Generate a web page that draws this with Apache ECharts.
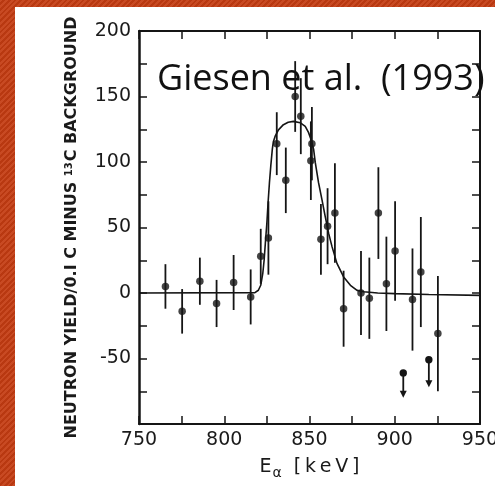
<!DOCTYPE html>
<html><head><meta charset="utf-8">
<script src="https://cdn.jsdelivr.net/npm/echarts@6.0.0/dist/echarts.min.js"></script>
<style>
html,body{margin:0;padding:0;width:495px;height:486px;overflow:hidden;}
body{background-color:#c43c12;background-image:repeating-linear-gradient(135deg, rgba(255,255,255,0.07) 0px, rgba(255,255,255,0.07) 2px, rgba(0,0,0,0.06) 2px, rgba(0,0,0,0.06) 4px);}
#chart{position:absolute;left:15px;top:7px;width:480px;height:479px;background:#fff;}
</style></head>
<body><div id="chart"></div>
<script>
// Measured points
var energy = [765.5, 775.3, 785.7, 795.5, 805.5, 815.5, 821.4, 825.9, 830.8, 836.1, 841.6, 844.9, 850.8, 851.4, 856.7, 860.6, 864.9, 870.0, 880.2, 885.1, 890.4, 895.1, 900.2, 910.4, 915.3, 925.3];
var yieldVals = [5, -14, 9, -8, 8, -3, 28, 42, 114, 86, 150, 135, 101, 114, 41, 51, 61, -12, 0, -4, 61, 7, 32, -5, 16, -31];
var errors = [17, 17, 18, 18, 21, 21, 21, 28, 24, 25, 27, 29, 30, 28, 27, 29, 38, 29, 32, 31, 35, 36, 38, 39, 42, 44];
// Upper limits (arrows)
var limitE = [905.0, 920.0];
var limitY = [-61, -51];
var limitTip = [-80, -72];
// Fitted curve
var fitE = [750, 818, 820.0, 821.4, 822.6, 823.4, 824.1, 825.0, 825.7, 826.5, 827.3, 828.2, 828.8, 829.8, 831.8, 834.7, 837.5, 840.6, 844.5, 847.5, 849.4, 850.8, 852.4, 853.4, 855.3, 857.3, 859.2, 861.2, 863.2, 866.1, 870.0, 874.0, 877.9, 881.8, 890, 900, 920, 950];
var fitY = [0, 0.3, 2.1, 5.9, 14.9, 25.2, 38, 53.4, 68.8, 84.2, 97, 109.8, 115.5, 119.5, 124.5, 128.5, 130.3, 131, 130.0, 127.2, 122.6, 117.5, 109.8, 99.5, 84.2, 71.3, 58.5, 45.7, 35.4, 22.6, 12.3, 5.9, 2.0, 1.0, 0, -0.5, -1.2, -1.8];
// Axes
var xMin = 750, xMax = 950, xStep = 25;
var yMin = -100, yMax = 200, yStep = 25;
var titleText = 'Giesen et al.  (1993)';

var pts = energy.map(function(e, i){ return [e, yieldVals[i]]; });
var errData = energy.map(function(e, i){ return [e, yieldVals[i], errors[i]]; });
var limData = limitE.map(function(e, i){ return [e, limitY[i], limitTip[i]]; });
var fitData = fitE.map(function(e, i){ return [e, fitY[i]]; });

var ink = '#151515';
var tickFont = {fontFamily:'DejaVu Sans', fontSize:19, color:'#1a1a1a'};

var chart = echarts.init(document.getElementById('chart'), null, {renderer:'canvas'});
chart.setOption({
  animation:false,
  backgroundColor:'#fff',
  grid:{left:124, right:15, top:24, bottom:62, containLabel:false, outerBoundsMode:'none'},
  xAxis:[{
    type:'value', min:xMin, max:xMax, interval:xStep, position:'bottom',
    axisLine:{onZero:false, lineStyle:{color:ink, width:2}},
    axisTick:{inside:true, length:8, lineStyle:{color:ink, width:1.5}},
    axisLabel:Object.assign({margin:7, hideOverlap:false, formatter:function(v){return v%50===0?String(v):'';}}, tickFont),
    splitLine:{show:false},
    name:'{e|E}{a|α}{k|  [\u2009k\u2009e\u2009V\u2009]}', nameLocation:'middle', nameGap:30,
    nameTextStyle:{rich:{
      e:{fontFamily:'DejaVu Sans', fontSize:19, color:'#1a1a1a'},
      a:{fontFamily:'DejaVu Sans', fontSize:14, color:'#1a1a1a', verticalAlign:'bottom', padding:[12,0,0,1]},
      k:{fontFamily:'DejaVu Sans', fontSize:19, color:'#1a1a1a'}
    }}
  },{
    type:'value', min:xMin, max:xMax, interval:xStep, position:'top',
    axisLine:{onZero:false, lineStyle:{color:ink, width:2}},
    axisTick:{inside:true, length:8, lineStyle:{color:ink, width:1.5}},
    axisLabel:{show:false}, splitLine:{show:false}
  }],
  yAxis:[{
    type:'value', min:yMin, max:yMax, interval:yStep, position:'left',
    axisLine:{onZero:false, lineStyle:{color:ink, width:2.5}},
    axisTick:{inside:true, length:8, lineStyle:{color:ink, width:1.5}},
    axisLabel:Object.assign({margin:8, formatter:function(v){return (v%50===0 && v>yMin)?String(v):'';}}, tickFont),
    splitLine:{show:false},
    name:'{t|NEUTRON YIELD/0.I C MINUS }{s|13}{t|C BACKGROUND}', nameLocation:'middle', nameRotate:90, nameGap:59,
    nameTextStyle:{rich:{
      t:{fontFamily:'DejaVu Sans', fontSize:16, fontWeight:'bold', color:'#1a1a1a'},
      s:{fontFamily:'DejaVu Sans', fontSize:10, fontWeight:'bold', color:'#1a1a1a', verticalAlign:'top', padding:[0,1,6,0]}
    }}
  },{
    type:'value', min:yMin, max:yMax, interval:yStep, position:'right',
    axisLine:{onZero:false, lineStyle:{color:ink, width:2}},
    axisTick:{inside:true, length:8, lineStyle:{color:ink, width:1.5}},
    axisLabel:{show:false}, splitLine:{show:false}
  }],
  graphic:[{
    type:'text', left:142, top:55, z:100,
    style:{text:titleText, font:'36px "Open Sans"', fill:'#111'}
  }],
  series:[
    {type:'line', data:fitData, showSymbol:false, symbol:'none', smooth:false,
     lineStyle:{color:ink, width:1.6}, z:3},
    {type:'custom', data:errData, z:4, renderItem:function(params, api){
      var x = api.value(0), y = api.value(1), e = api.value(2);
      var p1 = api.coord([x, y+e]), p2 = api.coord([x, y-e]);
      return {type:'line', shape:{x1:p1[0], y1:p1[1], x2:p2[0], y2:p2[1]}, style:{stroke:ink, lineWidth:1.8}};
    }},
    {type:'scatter', data:pts, symbol:'circle', symbolSize:7.5, itemStyle:{color:ink}, z:5},
    {type:'custom', data:limData, z:5, renderItem:function(params, api){
      var x = api.value(0), y = api.value(1), t = api.value(2);
      var p1 = api.coord([x, y]), p2 = api.coord([x, t]);
      return {type:'group', children:[
        {type:'line', shape:{x1:p1[0], y1:p1[1], x2:p2[0], y2:p2[1]-5}, style:{stroke:ink, lineWidth:1.8}},
        {type:'polygon', shape:{points:[[p2[0]-3.5, p2[1]-7],[p2[0]+3.5, p2[1]-7],[p2[0], p2[1]]]}, style:{fill:ink}},
        {type:'circle', shape:{cx:p1[0], cy:p1[1], r:3.7}, style:{fill:ink}}
      ]};
    }}
  ]
});
</script></body></html>
